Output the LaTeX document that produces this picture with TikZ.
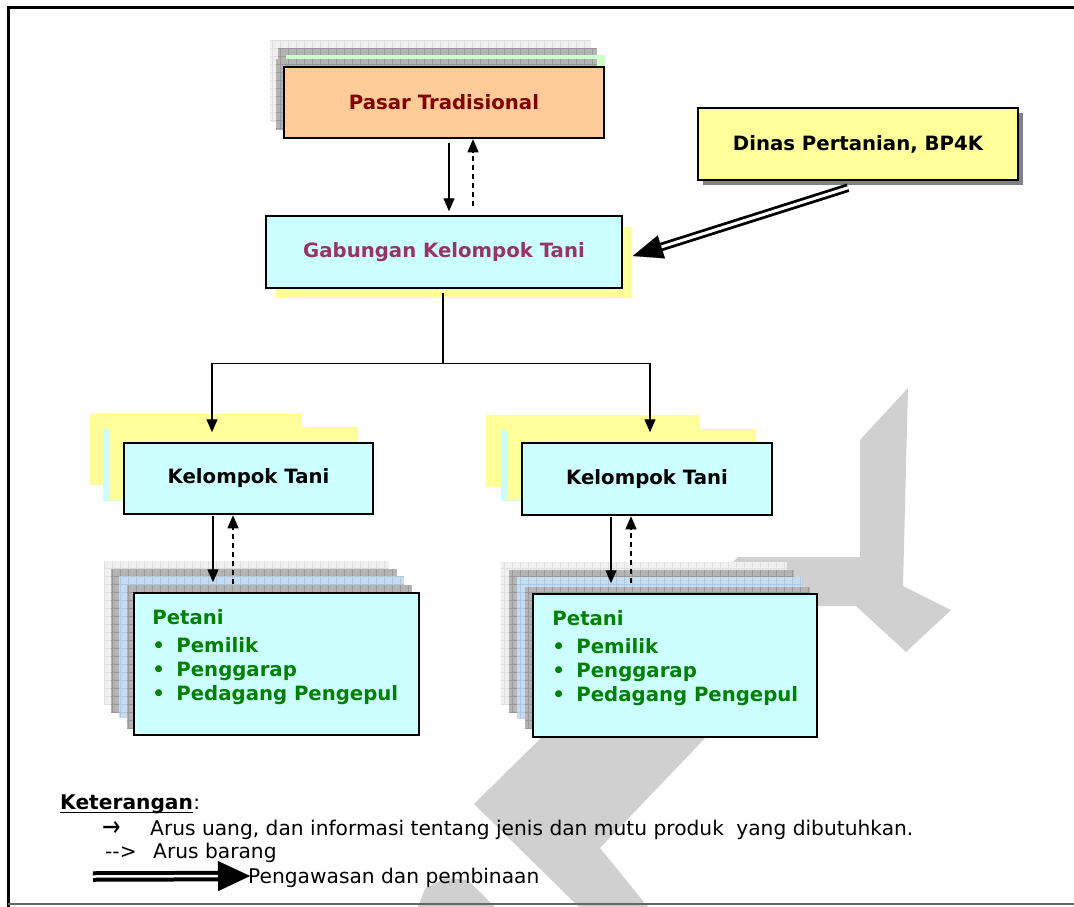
\documentclass[tikz,border=0pt]{standalone}
\usepackage{fontspec}
\setmainfont{DejaVu Sans}
\usetikzlibrary{arrows.meta,calc}
\definecolor{peach}{HTML}{FFCC99}
\definecolor{cyanbox}{HTML}{CCFFFF}
\definecolor{yellowbox}{HTML}{FFFF99}
\definecolor{darkred}{HTML}{800000}
\definecolor{plum}{HTML}{993366}
\definecolor{leafgreen}{HTML}{008000}
\definecolor{wmgray}{HTML}{D0D0D0}
\definecolor{layerlight}{HTML}{F0F0F0}
\definecolor{layerlightln}{HTML}{E0E0E0}
\definecolor{layerdark}{HTML}{B4B4B4}
\definecolor{layerdarkln}{HTML}{999999}
\definecolor{layerblue}{HTML}{C6DCF2}
\definecolor{layerblueln}{HTML}{AFC8E2}
\definecolor{layergreen}{HTML}{CCFFCC}
\definecolor{shadowgray}{HTML}{808080}
\newcommand{\gridlayer}[6]{%
  \fill[#5] (#1,-#2) rectangle (#3,-#4);
  \begin{scope}
    \clip (#1,-#2) rectangle (#3,-#4);
    \draw[#6, line width=0.5pt, step=8] (#1,-#2) grid (#3,-#4);
  \end{scope}}
\newcommand{\flatlayer}[5]{\fill[#5] (#1,-#2) rectangle (#3,-#4);}
\begin{document}
\begin{tikzpicture}[x=1pt,y=1pt,
  mybox/.style={draw=black, line width=1.5pt, inner sep=0pt, align=center,
    font=\fontsize{19.7}{23}\selectfont\bfseries},
  pettext/.style={inner sep=0pt, align=left, text=leafgreen,
    font=\fontsize{19.7}{24}\selectfont\bfseries},
  legend/.style={inner sep=0pt, font=\fontsize{20.2}{24}\selectfont},
  arr/.style={line width=1.3pt, -{Triangle[length=13pt,width=11pt]}},
  dasharr/.style={arr, dash pattern=on 5.5pt off 3.5pt},
  wm/.style={fill=wmgray}]
\useasboundingbox (0,0) rectangle (1074,-907);
\fill[white] (0,0) rectangle (1074,-907);

% watermark
\fill[wm] (725,-570) -- (738,-557) -- (860,-557) -- (860,-440) -- (908,-388) -- (903,-586)
  -- (951,-610) -- (906,-652) -- (856,-606) -- (725,-606) -- cycle;
\fill[wm] (545,-734) -- (709,-734) -- (600,-848) -- (648,-907) -- (579,-907) -- (474,-804) -- cycle;
\fill[wm] (418,-907) -- (425,-889) -- (445,-878) -- (468,-880) -- (495,-907) -- cycle;

% frame
\draw[line width=3pt] (8,-907) -- (8,-7.5) -- (1074,-7.5);
\draw[gray!80!black, line width=1.8pt] (8,-904) -- (1074,-904);

% stacked layers behind Pasar
\gridlayer{270}{40}{591}{122}{layerlight}{layerlightln}
\gridlayer{278}{48}{597}{126}{layerdark}{layerdarkln}
\flatlayer{286}{55}{605}{127}{layergreen}
\gridlayer{276}{59}{597}{130}{layerdark}{layerdarkln}

% shadows
\flatlayer{276}{227}{632}{298}{yellowbox}
\flatlayer{703}{113}{1023}{185}{shadowgray}
\flatlayer{90}{414}{302}{485}{yellowbox}
\flatlayer{103}{429}{355}{501}{cyanbox}
\flatlayer{109}{427}{358}{500}{yellowbox}
\flatlayer{486}{415}{700}{487}{yellowbox}
\flatlayer{501}{430}{753}{501}{cyanbox}
\flatlayer{507}{429}{756}{500}{yellowbox}

% stacked layers behind Petani
\gridlayer{104}{561}{389}{705}{layerlight}{layerlightln}
\gridlayer{111}{569}{397}{712}{layerdark}{layerdarkln}
\gridlayer{119}{576}{404}{718}{layerblue}{layerblueln}
\gridlayer{127}{585}{412}{728}{layerdark}{layerdarkln}
\gridlayer{501}{562}{787}{705}{layerlight}{layerlightln}
\gridlayer{509}{570}{794}{712}{layerdark}{layerdarkln}
\gridlayer{517}{577}{802}{719}{layerblue}{layerblueln}
\gridlayer{525}{587}{810}{728}{layerdark}{layerdarkln}

% boxes
\node[mybox, fill=peach, text=darkred, minimum width=320, minimum height=71] (pasar) at (444,-102.5) {Pasar Tradisional};
\node[mybox, fill=cyanbox, text=plum, minimum width=356, minimum height=72] (gab) at (444,-252) {Gabungan Kelompok Tani};
\node[mybox, fill=yellowbox, minimum width=320, minimum height=72] (dinas) at (858,-144) {Dinas Pertanian, BP4K};
\node[mybox, fill=cyanbox, minimum width=249, minimum height=71] (kt1) at (248.5,-478.5) {Kelompok Tani};
\node[mybox, fill=cyanbox, minimum width=250, minimum height=72] (kt2) at (647,-479) {Kelompok Tani};
\node[mybox, fill=cyanbox, minimum width=285, minimum height=142] (pet1) at (276.5,-664) {};
\node[mybox, fill=cyanbox, minimum width=284, minimum height=143] (pet2) at (675,-665.5) {};

\node[pettext, anchor=north west] (pet1text) at ([shift={(19,-17)}]pet1.north west)
  {Petani\\[4pt]\makebox[24pt][l]{•}Pemilik\\\makebox[24pt][l]{•}Penggarap\\\makebox[24pt][l]{•}Pedagang Pengepul};
\node[pettext, anchor=north west] (pet2text) at ([shift={(20,-17)}]pet2.north west)
  {Petani\\[4pt]\makebox[24pt][l]{•}Pemilik\\\makebox[24pt][l]{•}Penggarap\\\makebox[24pt][l]{•}Pedagang Pengepul};

% connectors
\draw[arr] ([shift={(5,-4)}]pasar.south) -- ([shift={(5,4)}]gab.north);
\draw[dasharr] ([shift={(29,9)}]gab.north) -- ([shift={(29,-0.5)}]pasar.south);
\coordinate (split) at ([shift={(-1,-75)}]gab.south);
\draw[line width=1.3pt] ([shift={(-1,-4)}]gab.south) -- (split);
\draw[arr] (split) -| ([shift={(-36.5,10)}]kt1.north);
\draw[arr] (split) -| ([shift={(3,10)}]kt2.north);
\draw[arr] ([shift={(-35.5,-1)}]kt1.south) -- ([shift={(-63.5,10)}]pet1.north);
\draw[dasharr] ([shift={(-43.5,8)}]pet1.north) -- ([shift={(-15.5,-0.5)}]kt1.south);
\draw[arr] ([shift={(-36,-1)}]kt2.south) -- ([shift={(-64,10)}]pet2.north);
\draw[dasharr] ([shift={(-44,10)}]pet2.north) -- ([shift={(-16,-0.5)}]kt2.south);

% Dinas supervision arrow
\coordinate (dstart) at ([shift={(-10,-7)}]dinas.south);
\coordinate (dtip) at ([shift={(10,-4)}]gab.east);
\draw[double, line width=2.8pt, double distance=3pt, shorten >=20pt] (dstart) -- (dtip);
\draw[line width=0.1pt, -{Triangle[length=30pt,width=24pt]}] ($(dtip)!31pt!(dstart)$) -- (dtip);

% legend
\node[legend, anchor=base west] (ketword) at (60,-809) {\bfseries Keterangan};
\node[legend, anchor=base west] (ketcolon) at (ketword.base east) {:};
\draw[line width=1.5pt] ([yshift=-3.5pt]ketword.base west) -- ([yshift=-3.5pt]ketword.base east);
\node[legend, anchor=base west, font=\fontsize{22}{24}\selectfont] (arrsym) at (102,-836) {\scalebox{1}[1.3]{→}};
\node[legend, anchor=base west] (line1) at (150,-835) {Arus uang, dan informasi tentang jenis dan mutu produk\hspace{6pt} yang dibutuhkan.};
\node[legend, anchor=base west] (dashsym) at (105,-858) {-{}-{}>};
\node[legend, anchor=base west] (line2) at (153,-858) {Arus barang};
\node[legend, anchor=base west] (line3) at (248,-883) {Pengawasan dan pembinaan};
\coordinate (lastart) at (93,-876.5);
\coordinate (latip) at (250,-876);
\draw[double, line width=4pt, double distance=2.5pt, shorten >=28pt] (lastart) -- (latip);
\draw[line width=0.1pt, -{Triangle[length=32pt,width=30pt]}] ($(latip)!33pt!(lastart)$) -- (latip);
\end{tikzpicture}
\end{document}
